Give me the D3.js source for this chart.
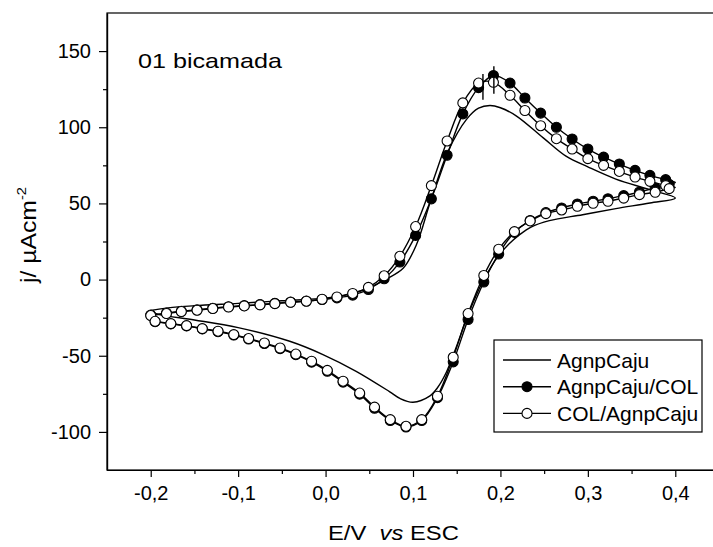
<!DOCTYPE html>
<html>
<head>
<meta charset="utf-8">
<script src="https://cdn.jsdelivr.net/npm/d3@7"></script>
<style>
    body { margin: 0; background: #fff; }
    #chart-area text { font-family: "Liberation Sans", Arial, sans-serif; fill: #000; }
</style>
</head>
<body>
<div id="chart-area"></div>
<script>

// potential (V vs ESC) of every sampled point: forward sweep, vertex 0.4, reverse sweep
let potentialPoints = [
    -0.200, -0.182, -0.165, -0.147, -0.129, -0.111, -0.093, -0.075, -0.058, -0.040,
    -0.022, -0.004, 0.013, 0.031, 0.049, 0.067, 0.085, 0.103, 0.121, 0.139,
    0.157, 0.175, 0.192, 0.211, 0.228, 0.246, 0.264, 0.282, 0.300, 0.318,
    0.336, 0.354, 0.371, 0.389,
    0.400,
    0.393, 0.377, 0.359, 0.341, 0.323, 0.306, 0.288, 0.270, 0.252, 0.234,
    0.216, 0.198, 0.181, 0.163, 0.146, 0.128, 0.110, 0.092, 0.074, 0.056,
    0.039, 0.020, 0.002, -0.016, -0.034, -0.052, -0.070, -0.088, -0.105, -0.123,
    -0.141, -0.159, -0.177, -0.195
];

// current density (uA cm-2), AgnpCaju/COL (filled circles)
let jAgnpCajuCol = [
    -23.3, -22.0, -20.8, -19.9, -18.8, -17.8, -17.1, -16.4, -15.6, -14.8,
    -14.1, -13.1, -12.0, -10.2, -6.5, 0.5, 11.5, 29.0, 53.0, 81.6,
    108.8, 126.0, 134.0, 129.0, 119.2, 109.3, 100.0, 92.3, 85.7, 80.4,
    75.9, 71.7, 68.4, 65.6,
    63.8,
    62.5, 60.1, 57.5, 55.1, 53.1, 51.4, 49.6, 47.0, 44.0, 38.8,
    31.0, 16.8, -1.6, -26.2, -54.0, -77.5, -92.5, -96.8, -92.5, -84.5,
    -75.2, -67.3, -60.2, -54.2, -49.3, -45.3, -42.0, -39.0, -36.4, -34.2,
    -32.4, -30.4, -29.1, -27.6
];

// current density (uA cm-2), COL/AgnpCaju (open circles)
let jColAgnpCaju = [
    -23.6, -22.3, -21.0, -20.1, -19.0, -18.0, -17.3, -16.6, -15.8, -14.9,
    -14.2, -12.9, -11.4, -9.1, -5.1, 2.5, 15.3, 34.8, 61.7, 91.0,
    116.0, 129.0, 129.5, 121.0, 111.0, 101.0, 92.5, 85.7, 79.4, 75.0,
    71.0, 67.3, 64.5, 61.7,
    60.5,
    59.7, 57.3, 55.8, 53.5, 51.4, 50.1, 48.1, 45.7, 43.3, 38.5,
    31.5, 19.9, 2.7, -22.3, -51.0, -76.6, -91.9, -96.3, -91.9, -83.7,
    -74.5, -66.7, -59.6, -53.6, -48.9, -44.9, -41.6, -38.7, -36.1, -33.9,
    -32.2, -30.2, -28.9, -27.4
];

// AgnpCaju (plain line), read along the loop
let agnpCajuE = [
    -0.200, -0.180, -0.150, -0.100, -0.050, 0.000, 0.020, 0.040, 0.055, 0.070,
    0.089, 0.104, 0.120, 0.140, 0.161, 0.175, 0.188, 0.200, 0.218, 0.249,
    0.275, 0.300, 0.332, 0.371, 0.400,
    0.371, 0.332, 0.294, 0.256, 0.235, 0.222, 0.210, 0.199, 0.180, 0.163,
    0.149, 0.138, 0.128, 0.119, 0.100, 0.085, 0.073, 0.035, -0.003, -0.041,
    -0.100, -0.150, -0.190, -0.200
];
let agnpCajuJ = [
    -20.3, -18.6, -17.2, -15.6, -13.9, -12.2, -10.4, -7.5, -4.0, 0.5,
    7.6, 23.0, 51.4, 84.0, 105.0, 112.5, 114.3, 112.8, 107.5, 93.0,
    81.0, 74.0, 66.0, 59.0, 53.5,
    50.3, 46.6, 42.6, 38.7, 34.5, 29.5, 23.5, 16.5, -1.0, -23.0,
    -45.0, -61.0, -71.0, -76.5, -80.5, -78.0, -73.5, -60.2, -49.2, -40.5,
    -31.5, -26.5, -23.0, -21.0
];

// small vertical peak marks
let peakE = [0.180, 0.1925];
let peakLow = [118, 122];
let peakHigh = [135, 140];

let xTicks = [-0.2, -0.1, 0.0, 0.1, 0.2, 0.3, 0.4];
let xMinor = [-0.15, -0.05, 0.05, 0.15, 0.25, 0.35];
let yTicks = [-100, -50, 0, 50, 100, 150];
let yMinor = [-75, -25, 25, 75, 125];
let seriesNames = ["AgnpCaju", "AgnpCaju/COL", "COL/AgnpCaju"];

class cvChart {

    constructor(parentElement){
        this.parentElement = parentElement;
        this.initVis()
    }

    initVis(){
        let vis = this;

        vis.margin = {top: 13, left: 107};
        vis.width = 612;
        vis.height = 457;

        vis.svg = d3.select("#" + vis.parentElement)
            .append("svg")
            .attr("width", 713)
            .attr("height", 547)
            .style("display", "block");

        vis.g = vis.svg.append("g")
            .attr("transform", `translate(${vis.margin.left},${vis.margin.top})`);

        vis.x = d3.scaleLinear().domain([-0.25, 0.45]).range([0, vis.width]);
        vis.y = d3.scaleLinear().domain([-125, 175]).range([vis.height, 0]);

        vis.wrangleData();
    }

    wrangleData(){
        let vis = this;

        vis.filled = potentialPoints.map((e, i) => ({e: e, j: jAgnpCajuCol[i]}));
        vis.open = potentialPoints.map((e, i) => ({e: e, j: jColAgnpCaju[i]}));
        vis.plain = agnpCajuE.map((e, i) => ({e: e, j: agnpCajuJ[i]}));
        vis.peaks = peakE.map((e, i) => ({e: e, lo: peakLow[i], hi: peakHigh[i]}));

        vis.updateVis();
    }

    updateVis(){
        let vis = this;

        // frame (right side falls outside the picture)
        vis.g.append("rect")
            .attr("width", vis.width)
            .attr("height", vis.height)
            .attr("fill", "none")
            .attr("stroke", "#000")
            .attr("stroke-width", 1.2);

        // axes
        vis.g.append("g")
            .attr("transform", `translate(0,${vis.height})`)
            .call(d3.axisBottom(vis.x).tickValues(xTicks).tickSize(7).tickSizeOuter(0).tickPadding(9)
                .tickFormat(d => d.toFixed(1).replace(".", ",")));
        vis.g.append("g")
            .attr("transform", `translate(0,${vis.height})`)
            .call(d3.axisBottom(vis.x).tickValues(xMinor).tickSize(4).tickSizeOuter(0).tickFormat(""));

        vis.g.append("g")
            .call(d3.axisLeft(vis.y).tickValues(yTicks).tickSize(8).tickSizeOuter(0).tickPadding(8)
                .tickFormat(d => String(d)));
        vis.g.append("g")
            .call(d3.axisLeft(vis.y).tickValues(yMinor).tickSize(4).tickSizeOuter(0).tickFormat(""));

        vis.g.selectAll(".domain").attr("stroke-width", 1.2);
        vis.g.selectAll(".tick line").attr("stroke-width", 1.2);
        vis.g.selectAll(".tick text").attr("font-size", "20px");

        // lines
        let line = d3.line()
            .x(d => vis.x(d.e))
            .y(d => vis.y(d.j))
            .curve(d3.curveCatmullRom.alpha(0.5));

        vis.g.append("path")
            .datum(vis.plain)
            .attr("d", line)
            .attr("fill", "none")
            .attr("stroke", "#000")
            .attr("stroke-width", 1.4);

        [{data: vis.filled, fill: "#000"}, {data: vis.open, fill: "#fff"}].forEach(function (s) {
            vis.g.append("path")
                .datum(s.data)
                .attr("d", line)
                .attr("fill", "none")
                .attr("stroke", "#000")
                .attr("stroke-width", 1.4);

            // no marker at the 0.4 V vertex
            vis.g.append("g")
                .selectAll("circle")
                .data(s.data.filter(d => d.e !== 0.4))
                .join("circle")
                .attr("cx", d => vis.x(d.e))
                .attr("cy", d => vis.y(d.j))
                .attr("r", 5)
                .attr("fill", s.fill)
                .attr("stroke", "#000")
                .attr("stroke-width", 1.1);
        });

        vis.g.append("g")
            .selectAll("line")
            .data(vis.peaks)
            .join("line")
            .attr("x1", d => vis.x(d.e))
            .attr("x2", d => vis.x(d.e))
            .attr("y1", d => vis.y(d.lo))
            .attr("y2", d => vis.y(d.hi))
            .attr("stroke", "#000")
            .attr("stroke-width", 1.4);

        // annotation
        vis.svg.append("text")
            .attr("x", 138)
            .attr("y", 68)
            .attr("font-size", "21px")
            .attr("textLength", 144)
            .attr("lengthAdjust", "spacingAndGlyphs")
            .text("01 bicamada");

        // x title
        let xt = vis.svg.append("text")
            .attr("font-size", "20px");
        xt.append("tspan").text("E/V\u00a0\u00a0");
        xt.append("tspan").attr("font-style", "italic").text("vs");
        xt.append("tspan").text(" ESC");
        let xw = xt.node().getComputedTextLength();
        xt.attr("transform", `translate(328,540) scale(${131 / xw},1)`);

        // y title
        let yt = vis.svg.append("text")
            .attr("font-size", "22px");
        yt.append("tspan").text("j/ \u00b5Acm");
        yt.append("tspan").attr("font-size", "13px").attr("dy", -10).text("-2");
        let yw = yt.node().getComputedTextLength();
        yt.attr("transform", `translate(36,283) rotate(-90) scale(${96 / yw},1)`);

        // legend
        let legend = vis.svg.append("g");
        legend.append("rect")
            .attr("x", 494)
            .attr("y", 340)
            .attr("width", 208)
            .attr("height", 92)
            .attr("fill", "#fff")
            .attr("stroke", "#000")
            .attr("stroke-width", 1.2);

        let rows = legend.selectAll("g.row")
            .data(seriesNames)
            .join("g")
            .attr("class", "row")
            .attr("transform", (d, i) => `translate(503,${360 + i * 26.7})`);

        rows.append("line")
            .attr("x1", 0)
            .attr("x2", 48)
            .attr("stroke", "#000")
            .attr("stroke-width", 1.4);
        rows.filter((d, i) => i > 0)
            .append("circle")
            .attr("cx", 24)
            .attr("r", 5)
            .attr("fill", (d, i) => i === 0 ? "#000" : "#fff")
            .attr("stroke", "#000")
            .attr("stroke-width", 1.1);
        rows.append("text")
            .attr("x", 54)
            .attr("dy", "0.36em")
            .attr("font-size", "21px")
            .text(d => d);
    }
}

new cvChart("chart-area");
</script>
</body>
</html>
